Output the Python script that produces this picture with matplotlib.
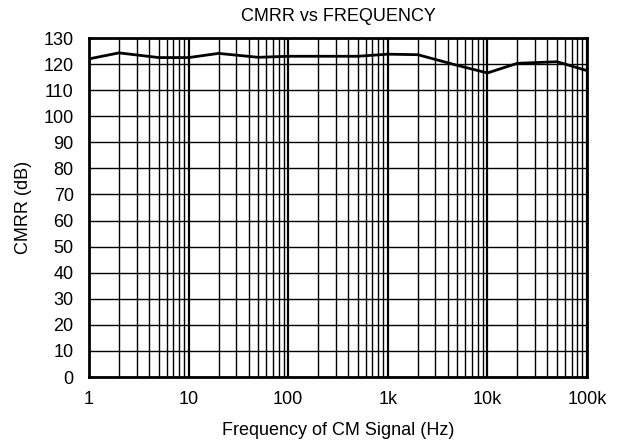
import numpy as np
import matplotlib.pyplot as plt
from matplotlib.ticker import FixedLocator, NullFormatter

plt.rcParams['font.family'] = ['Liberation Sans', 'DejaVu Sans']

# Datos
frecuencia = [1, 2, 5, 10, 20, 50, 100, 200, 500, 1000, 2000, 5000, 10000, 20000, 50000, 100000]
cmrr = [122.0, 124.3, 122.5, 122.5, 124.1, 122.6, 123.0, 123.0, 123.0, 123.8, 123.6, 119.5, 116.6, 120.3, 120.9, 117.5]

ticks_x = [1, 10, 100, 1000, 10000, 100000]
etiquetas_x = ['1', '10', '100', '1k', '10k', '100k']
ticks_y = list(range(0, 131, 10))

fig = plt.figure(figsize=(6.26, 4.42), dpi=100)
ax = fig.add_axes([0.1422, 0.147, 0.7955, 0.767])

ax.plot(frecuencia, cmrr, color='black', linewidth=2.0, zorder=3)

ax.set_xscale('log')
ax.set_xlim(1, 100000)
ax.set_ylim(0, 130)
ax.set_xticks(ticks_x)
ax.set_xticklabels(etiquetas_x)
menores = [m * 10 ** d for d in range(5) for m in range(2, 10)]
ax.xaxis.set_minor_locator(FixedLocator(menores))
ax.xaxis.set_minor_formatter(NullFormatter())
ax.set_yticks(ticks_y)

ax.grid(which='major', axis='x', color='black', linewidth=1.6)
ax.grid(which='minor', axis='x', color='black', linewidth=1.0)
ax.grid(which='major', axis='y', color='black', linewidth=1.0)
ax.tick_params(which='both', length=0, labelsize=13)
ax.tick_params(axis='x', pad=10)
ax.tick_params(axis='y', pad=11)

for s in ax.spines.values():
    s.set_linewidth(2.0)

ax.set_xlabel('Frequency of CM Signal (Hz)', fontsize=13, labelpad=10)
ax.set_ylabel('CMRR (dB)', fontsize=13, labelpad=8)
ax.set_title('CMRR vs FREQUENCY', fontsize=13, pad=12)

fig.savefig('out.png', dpi=100)
